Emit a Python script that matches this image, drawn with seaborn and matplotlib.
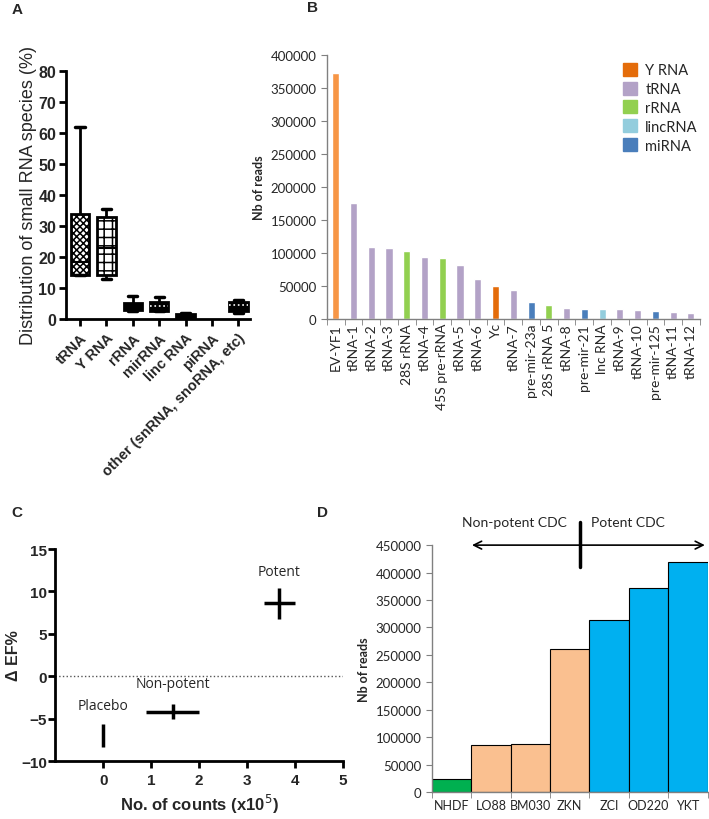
import numpy as np
import pandas as pd
import matplotlib.pyplot as plt
import matplotlib.patches as mpatches
import seaborn as sns

sns.set_style("white")
plt.rcParams['font.family'] = ['Liberation Sans', 'DejaVu Sans']
plt.rcParams['hatch.linewidth'] = 1.1

# ---- panel A data: five-number summaries (min, q1, median, q3, max)
a_species = ['tRNA', 'Y RNA', 'rRNA', 'mirRNA', 'linc RNA', 'piRNA', 'other (snRNA, snoRNA, etc)']
a_trna = [14, 14, 18.5, 34, 62]
a_yrna = [13, 14, 23, 33, 35.5]
a_rrna = [2.5, 3, 3.5, 5, 7.5]
a_mirrna = [2.5, 2.5, 4, 5.5, 7]
a_lincrna = [0.3, 0.5, 1, 1.5, 2]
a_other = [2, 2.5, 4.5, 5.5, 6]

# ---- panel B data
b_names = ['EV-YF1', 'tRNA-1', 'tRNA-2', 'tRNA-3', '28S rRNA', 'tRNA-4', '45S pre-rRNA',
           'tRNA-5', 'tRNA-6', 'Yc', 'tRNA-7', 'pre-mir-23a', '28S rRNA 5', 'tRNA-8',
           'pre-mir-21', 'lnc RNA', 'tRNA-9', 'tRNA-10', 'pre-mir-125', 'tRNA-11', 'tRNA-12']
b_reads = [372000, 175000, 109000, 107000, 102000, 94000, 92000, 82000, 61000, 49000,
           44000, 26000, 21000, 16500, 15500, 15000, 14500, 13000, 11500, 10000, 9500]
b_types = ['Y RNA', 'tRNA', 'tRNA', 'tRNA', 'rRNA', 'tRNA', 'rRNA', 'tRNA', 'tRNA', 'Y RNA',
           'tRNA', 'miRNA', 'rRNA', 'tRNA', 'miRNA', 'lincRNA', 'tRNA', 'tRNA', 'miRNA',
           'tRNA', 'tRNA']
b_type_order = ['Y RNA', 'tRNA', 'rRNA', 'lincRNA', 'miRNA']

# ---- panel C data
c_groups = ['Placebo', 'Non-potent', 'Potent']
c_counts = [0.0, 1.45, 3.67]
c_counts_err = [0.0, 0.55, 0.33]
c_def = [-7.0, -4.2, 8.6]
c_def_err = [1.4, 0.9, 1.8]

# ---- panel D data
d_names = ['NHDF', 'LO88', 'BM030', 'ZKN', 'ZCI', 'OD220', 'YKT']
d_reads = [24000, 85000, 87000, 260000, 313000, 372000, 419000]
d_group = ['control', 'non-potent', 'non-potent', 'non-potent', 'potent', 'potent', 'potent']

fig = plt.figure(figsize=(7.09, 8.20), dpi=100)

# ================= A =================
axA = fig.add_axes([0.093, 0.610, 0.26, 0.302])
rows = []
for sp, vals in zip(a_species, [a_trna, a_yrna, a_rrna, a_mirrna, a_lincrna, None, a_other]):
    if vals is None:
        continue
    for v in vals:
        rows.append((sp, v))
dfA = pd.DataFrame(rows, columns=['species', 'pct'])
sns.boxplot(data=dfA, x='species', y='pct', order=a_species, whis=np.inf, width=0.7,
            color='black', linewidth=2, ax=axA,
            medianprops=dict(color='black', linewidth=1.5),
            whiskerprops=dict(color='black', linewidth=2),
            capprops=dict(color='black', linewidth=2.5))
box_style = [('white', 'xxxxx'), ('white', '++'), ('black', None), ('black', None),
             ('black', None), ('black', None)]
for p, (fc, h) in zip(axA.patches, box_style):
    p.set_facecolor(fc)
    p.set_edgecolor('black')
    p.set_linewidth(2)
    if h:
        p.set_hatch(h)
# white dotted medians for mirRNA and other
for l in axA.lines:
    x = l.get_xdata()
    if len(x) == 2 and x[0] != x[1]:
        cx = (x[0] + x[1]) / 2
        w = abs(x[1] - x[0])
        if w > 0.5 and (abs(cx - 3) < 0.01 or abs(cx - 6) < 0.01):
            l.set_color('white')
            l.set_linestyle(':')
            l.set_linewidth(1.2)
axA.set_ylim(0, 80)
axA.set_xlim(-0.53, 6.45)
axA.set_yticks(range(0, 81, 10))
axA.set_xlabel('')
axA.set_ylabel('Distribution of small RNA species (%)', fontsize=13, labelpad=1)
axA.set_xticks(range(len(a_species)))
axA.set_xticklabels(a_species, rotation=45, ha='right', rotation_mode='anchor',
                    fontsize=10.5, fontweight='bold')
for t in axA.get_yticklabels():
    t.set_fontweight('bold')
    t.set_fontsize(11.5)
for s in ['top', 'right']:
    axA.spines[s].set_visible(False)
for s in ['left', 'bottom']:
    axA.spines[s].set_linewidth(2)
    axA.spines[s].set_color('black')
axA.tick_params(axis='both', direction='out', length=5, width=2, color='black', bottom=True, left=True)
axA.tick_params(axis='y', pad=2)

# ================= B =================
calibri = ['Lato', 'DejaVu Sans']
b_palette = {'Y RNA': '#E46C0A', 'tRNA': '#B3A2C7', 'rRNA': '#92D050',
             'lincRNA': '#93CDDD', 'miRNA': '#4A7EBB'}
axB = fig.add_axes([0.461, 0.610, 0.526, 0.322])
dfB = pd.DataFrame({'name': b_names, 'reads': b_reads, 'type': b_types})
sns.barplot(data=dfB, x='name', y='reads', hue='type', hue_order=b_type_order,
            palette=b_palette, width=0.4, dodge=False, saturation=1, ax=axB, legend=False)
# first bar is a lighter orange in the reference
for p in axB.patches:
    if abs(p.get_x() + p.get_width() / 2) < 0.01:
        p.set_facecolor('#F79646')
axB.set_xlim(-0.5, len(b_names) - 0.5)
axB.set_ylim(0, 400000)
axB.set_yticks(range(0, 400001, 50000))
axB.set_xlabel('')
axB.set_ylabel('Nb of reads', fontsize=9, fontweight='bold', family=calibri)
axB.set_xticks(range(len(b_names)))
axB.set_xticklabels(b_names, rotation=90, fontsize=10, family=calibri)
for t in axB.get_yticklabels():
    t.set_family(calibri)
    t.set_fontsize(9.5)
axB.set_xticks(np.arange(-0.5, len(b_names), 1), minor=True)
axB.tick_params(axis='x', which='major', length=0, pad=3)
axB.tick_params(axis='x', which='minor', length=4, color='#808080', bottom=True)
axB.tick_params(axis='y', length=4, color='#808080', left=True)
for s in ['top', 'right']:
    axB.spines[s].set_visible(False)
for s in ['left', 'bottom']:
    axB.spines[s].set_color('#808080')
    axB.spines[s].set_linewidth(1)
handles = [mpatches.Patch(color=b_palette[t], label=t) for t in b_type_order]
axB.legend(handles=handles, loc='upper right', bbox_to_anchor=(1.03, 1.02), frameon=False,
           prop={'family': calibri, 'size': 10.5}, handlelength=0.9, handleheight=1.0,
           handletextpad=0.6, labelspacing=0.3)

# ================= C =================
axC = fig.add_axes([0.078, 0.0707, 0.406, 0.2585])
dfC = pd.DataFrame({'group': c_groups, 'counts': c_counts, 'def': c_def})
sns.scatterplot(data=dfC, x='counts', y='def', marker='', ax=axC, legend=False)
axC.errorbar(c_counts, c_def, xerr=c_counts_err, yerr=c_def_err, fmt='none',
             ecolor='black', elinewidth=2.5, capsize=0)
axC.axhline(0, color='#555555', linestyle=':', linewidth=1)
label_pos = [(0.0, -3.4), (1.46, -0.9), (3.67, 12.4)]
for g, (lx, ly) in zip(c_groups, label_pos):
    axC.text(lx, ly, g, ha='center', va='center', fontsize=10, family=['Open Sans', 'DejaVu Sans'])
axC.set_xlim(-1.0, 5.0)
axC.set_ylim(-10, 15)
axC.set_xticks(range(0, 6))
axC.set_yticks(range(-10, 16, 5))
axC.set_xlabel('No. of counts (x10$^5$)', fontsize=12, fontweight='bold')
axC.set_ylabel('Δ EF%', fontsize=11.5, fontweight='bold', labelpad=0)
for t in axC.get_xticklabels() + axC.get_yticklabels():
    t.set_fontweight('bold')
    t.set_fontsize(11)
for s in ['top', 'right']:
    axC.spines[s].set_visible(False)
for s in ['left', 'bottom']:
    axC.spines[s].set_linewidth(2)
    axC.spines[s].set_color('black')
axC.tick_params(axis='both', direction='out', length=5, width=2, color='black', bottom=True, left=True)
axC.tick_params(axis='y', pad=1)

# ================= D =================
d_palette = {'control': '#00B050', 'non-potent': '#FAC090', 'potent': '#00B0F0'}
axD = fig.add_axes([0.609, 0.033, 0.389, 0.301])
dfD = pd.DataFrame({'name': d_names, 'reads': d_reads, 'group': d_group})
sns.barplot(data=dfD, x='name', y='reads', hue='group', palette=d_palette, width=1.0,
            dodge=False, saturation=1, edgecolor='black', linewidth=0.8, ax=axD, legend=False)
axD.set_xlim(-0.5, len(d_names) - 0.5)
axD.set_ylim(0, 450000)
axD.set_yticks(range(0, 450001, 50000))
axD.set_xlabel('')
axD.set_ylabel('Nb of reads', fontsize=9, fontweight='bold', family=calibri)
axD.set_xticks(range(len(d_names)))
axD.set_xticklabels(d_names, fontsize=9, family=calibri)
for t in axD.get_yticklabels():
    t.set_family(calibri)
    t.set_fontsize(9.5)
axD.set_xticks(np.arange(-0.5, len(d_names), 1), minor=True)
axD.tick_params(axis='x', which='major', length=0, pad=5)
axD.tick_params(axis='x', which='minor', length=4, color='#808080', bottom=True)
axD.tick_params(axis='y', length=4, color='#808080', left=True)
for s in ['top', 'right']:
    axD.spines[s].set_visible(False)
for s in ['left', 'bottom']:
    axD.spines[s].set_color('#808080')
    axD.spines[s].set_linewidth(1)
axD.annotate('', xy=(0.45, 450000), xytext=(6.5, 450000),
             arrowprops=dict(arrowstyle='<->', color='black', lw=1.2, mutation_scale=14),
             annotation_clip=False)
axD.plot([3.26, 3.26], [411000, 492000], color='black', lw=2.5, clip_on=False)
axD.text(1.6, 492000, 'Non-potent CDC', ha='center', va='center', fontsize=10,
         family=calibri, clip_on=False)
axD.text(4.47, 492000, 'Potent CDC', ha='center', va='center', fontsize=10,
         family=calibri, clip_on=False)

# panel letters
for letter, (x, y) in zip('ABCD', [(17, 10), (312, 8), (17, 513), (323, 513)]):
    fig.text(x / 709, 1 - y / 820, letter, fontsize=11, fontweight='bold', va='center', ha='center')

fig.savefig('out.png', dpi=100)
